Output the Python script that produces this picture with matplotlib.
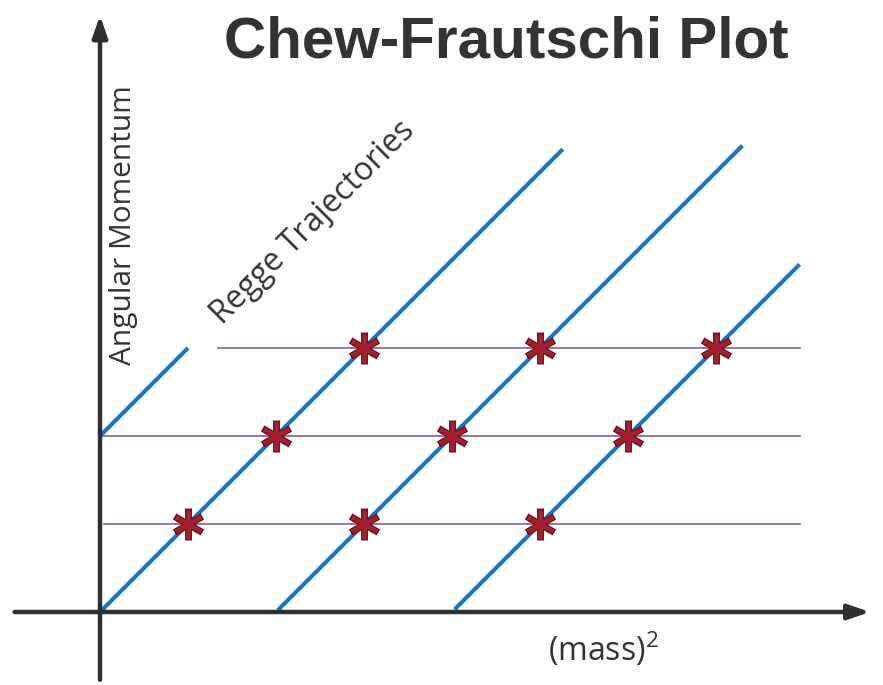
"""
Chew-Frautschi plot: Regge trajectories in the (mass)^2 - J plane.
"""

import matplotlib
matplotlib.use("Agg")
import matplotlib.pyplot as plt
from matplotlib.path import Path

plt.rcParams["font.family"] = ["Open Sans", "DejaVu Sans"]
plt.rcParams["mathtext.fontset"] = "custom"
plt.rcParams["mathtext.rm"] = "Open Sans"

# ==========================================================
# Data (units: one spin step)
# ==========================================================

spin_levels = [1, 2, 3]
level_start = [0.05, 0.0, 1.34]
level_end = [7.95, 7.95, 7.95]

# trajectories J = m2 - offset
traj_offsets = [0, 2, 4]
traj_start = [0.0, 2.02, 4.03]
traj_end = [5.26, 7.3, 7.95]

# short trajectory above the axis
short_offset = -2
short_range = [0.0, 1.0]

x_axis_range = [-0.97, 8.75]
y_axis_range = [-0.77, 6.78]

BLUE = "#1a78bb"
PURPLE = "#9a6a9c"
STAR = "#a3202f"
AXIS = "#2f2f2f"

# ==========================================================
# Figure
# ==========================================================

fig = plt.figure(figsize=(8.83, 6.85), dpi=100)
ax = fig.add_axes([0, 0, 1, 1])
ax.set_xlim(-100 / 88, 783 / 88)
ax.set_ylim(-73 / 88, 612 / 88)
ax.axis("off")

# horizontal spin levels
for J, x0, x1 in zip(spin_levels, level_start, level_end):
    ax.plot([x0, x1], [J, J], color=PURPLE, lw=1.3, zorder=1)

# trajectories
for off, x0, x1 in zip(traj_offsets, traj_start, traj_end):
    ax.plot([x0, x1], [x0 - off, x1 - off], color=BLUE, lw=3,
            solid_capstyle="butt", zorder=2)

ax.plot(short_range, [short_range[0] - short_offset, short_range[1] - short_offset],
        color=BLUE, lw=3, solid_capstyle="butt", zorder=2)

# asterisk: vertical bar plus two bars tilted about 30 degrees
star = Path([(0, -1), (0, 1), (-0.87, -0.5), (0.87, 0.5),
             (-0.87, 0.5), (0.87, -0.5)],
            [Path.MOVETO, Path.LINETO] * 3)

# particles where trajectories cross integer spin
for off in traj_offsets:
    xs = [J + off for J in spin_levels]
    ax.plot(xs, spin_levels, linestyle="none", marker=star,
            markersize=23, markeredgewidth=5, color="#6e0f1c", zorder=3)
    ax.plot(xs, spin_levels, linestyle="none", marker=star,
            markersize=21, markeredgewidth=3.2, color=STAR, zorder=4)

# axes with arrows
arrow = dict(arrowstyle="-|>,head_length=1.3,head_width=0.45",
             color=AXIS, lw=3.2, shrinkA=0, shrinkB=0)
ax.annotate("", xy=(x_axis_range[1], 0), xytext=(x_axis_range[0], 0),
            arrowprops=arrow, zorder=5)
ax.annotate("", xy=(0, y_axis_range[1]), xytext=(0, y_axis_range[0]),
            arrowprops=arrow, zorder=5)

# text
ax.text(4.62, 6.47, "Chew-Frautschi Plot", family="Liberation Sans",
        fontweight="bold", fontsize=42, color="#333333",
        ha="center", va="center")
ax.text(0.27, 4.4, "Angular Momentum", rotation=90, fontsize=21.5,
        color="#333333", ha="center", va="center")
ax.text(2.42, 4.42, "Regge Trajectories", rotation=45, fontsize=23,
        color="#333333", ha="center", va="center", rotation_mode="anchor")
ax.text(5.09, -0.43, "(mass)$^2$", fontsize=23, color="#333333",
        ha="left", va="center")

fig.savefig("out.png", dpi=100)
plt.close(fig)
